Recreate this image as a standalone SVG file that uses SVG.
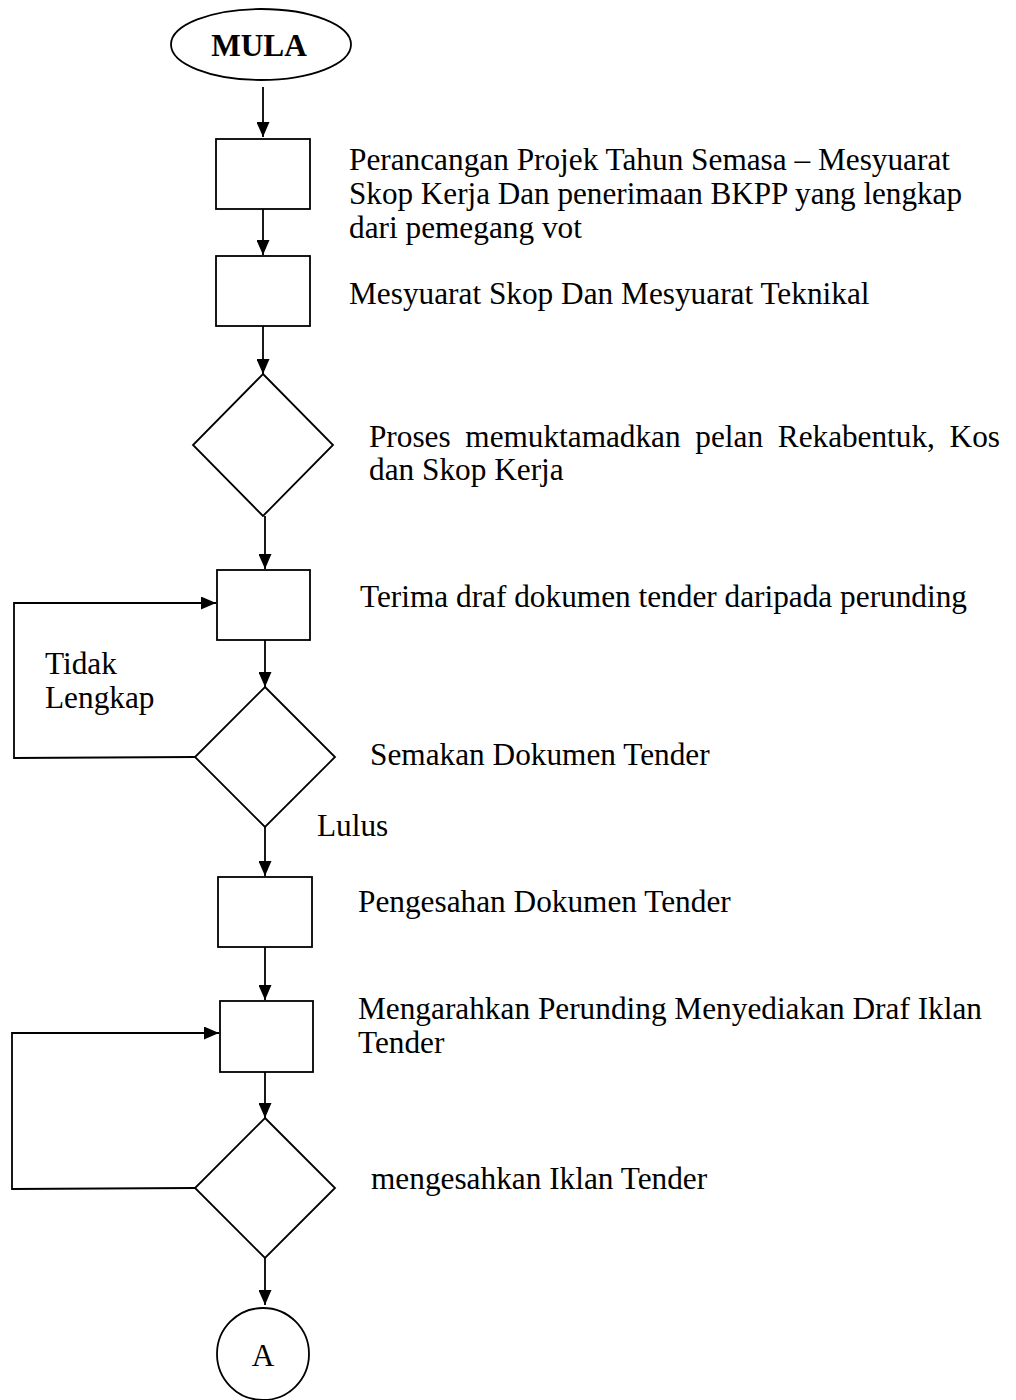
<svg xmlns="http://www.w3.org/2000/svg" width="1016" height="1400" viewBox="0 0 1016 1400">
<style>
.s{fill:#fff;stroke:#000;stroke-width:1.8}
.c{fill:none;stroke:#000;stroke-width:1.8}
.t{font-family:"Liberation Serif","Times New Roman",serif;font-size:31.3px;fill:#000}
.b{font-weight:bold;text-anchor:middle}
</style>
<defs>
<marker id="ah" viewBox="0 0 15 13" refX="15" refY="6.5" markerWidth="15" markerHeight="13" markerUnits="userSpaceOnUse" orient="auto">
<path d="M0,0 L15,6.5 L0,13 Z" fill="#000"/>
</marker>
</defs>
<rect width="1016" height="1400" fill="#fff"/>
<g id="connectors">
<line class="c" x1="263" y1="87" x2="263" y2="137" marker-end="url(#ah)"/>
<line class="c" x1="263" y1="209" x2="263" y2="255" marker-end="url(#ah)"/>
<line class="c" x1="263" y1="326" x2="263" y2="374" marker-end="url(#ah)"/>
<line class="c" x1="265" y1="516" x2="265" y2="569" marker-end="url(#ah)"/>
<line class="c" x1="265" y1="640" x2="265" y2="687" marker-end="url(#ah)"/>
<line class="c" x1="265" y1="827" x2="265" y2="876" marker-end="url(#ah)"/>
<line class="c" x1="265" y1="947" x2="265" y2="1000" marker-end="url(#ah)"/>
<line class="c" x1="265" y1="1072" x2="265" y2="1118" marker-end="url(#ah)"/>
<line class="c" x1="265" y1="1258" x2="265" y2="1305" marker-end="url(#ah)"/>
<polyline class="c" points="195,757 14,758 14,603 216,603" marker-end="url(#ah)"/>
<polyline class="c" points="195,1188 12,1189 12,1033 219,1033" marker-end="url(#ah)"/>
</g>
<g id="mula">
<ellipse class="s" cx="261" cy="44.5" rx="90" ry="35.5"/>
<text class="t b" x="259" y="56" font-size="33">MULA</text>
</g>
<g id="box1">
<rect class="s" x="216" y="139" width="94" height="70"/>
<text class="t" x="349" y="170" textLength="601" lengthAdjust="spacingAndGlyphs">Perancangan Projek Tahun Semasa – Mesyuarat</text>
<text class="t" x="349" y="204" textLength="613" lengthAdjust="spacingAndGlyphs">Skop Kerja Dan penerimaan BKPP yang lengkap</text>
<text class="t" x="349" y="238">dari pemegang vot</text>
</g>
<g id="box2">
<rect class="s" x="216" y="256" width="94" height="70"/>
<text class="t" x="349" y="304">Mesyuarat Skop Dan Mesyuarat Teknikal</text>
</g>
<g id="dec1">
<polygon class="s" points="263,374 333,445 263,516 193,445"/>
<text class="t" x="369" y="447" textLength="631" lengthAdjust="spacing" word-spacing="7">Proses memuktamadkan pelan Rekabentuk, Kos</text>
<text class="t" x="369" y="480">dan Skop Kerja</text>
</g>
<g id="box3">
<rect class="s" x="217" y="570" width="93" height="70"/>
<text class="t" x="360" y="607">Terima draf dokumen tender daripada perunding</text>
</g>
<g id="dec2">
<polygon class="s" points="265,687 335,757 265,827 195,757"/>
<text class="t" x="370" y="765">Semakan Dokumen Tender</text>
<text class="t" x="317" y="836">Lulus</text>
<text class="t" x="45" y="674">Tidak</text>
<text class="t" x="45" y="708">Lengkap</text>
</g>
<g id="box4">
<rect class="s" x="218" y="877" width="94" height="70"/>
<text class="t" x="358" y="912">Pengesahan Dokumen Tender</text>
</g>
<g id="box5">
<rect class="s" x="220" y="1001" width="93" height="71"/>
<text class="t" x="358" y="1019">Mengarahkan Perunding Menyediakan Draf Iklan</text>
<text class="t" x="358" y="1053">Tender</text>
</g>
<g id="dec3">
<polygon class="s" points="265,1118 335,1188 265,1258 195,1188"/>
<text class="t" x="371" y="1189">mengesahkan Iklan Tender</text>
</g>
<g id="connA">
<circle class="s" cx="263" cy="1354" r="46"/>
<text class="t" x="263" y="1366" text-anchor="middle">A</text>
</g>
</svg>
